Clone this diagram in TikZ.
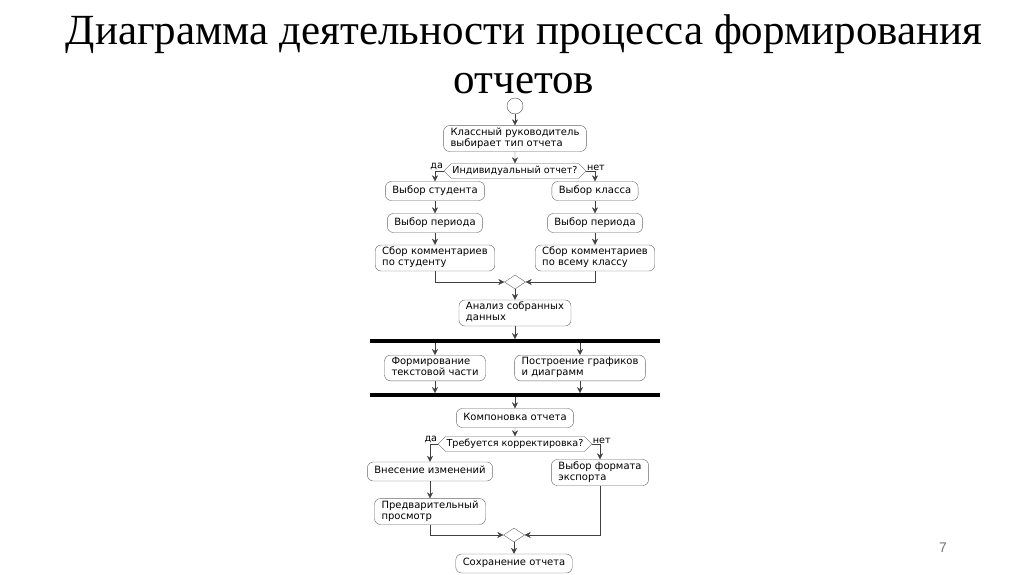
\documentclass[tikz,border=0pt]{standalone}
\usepackage{fontspec}
\setmainfont{Liberation Serif}
\newfontfamily\umlfont{DejaVu Sans}
\newfontfamily\pagefont{Liberation Sans}
\usetikzlibrary{arrows.meta,shapes.symbols,shapes.geometric}

\begin{document}
\begin{tikzpicture}[x=1pt,y=-1pt,
    act/.style={draw=black!60,rounded corners=6pt,fill=white,align=left,
      font=\umlfont\fontsize{10}{11}\selectfont,inner xsep=7pt,inner ysep=2pt,
      minimum height=19pt,execute at begin node=\strut,execute at end node=\strut},
    choice/.style={draw=black!60,signal,signal to=west and east,fill=white,
      font=\umlfont\fontsize{9.6}{11}\selectfont,inner xsep=1pt,inner ysep=1.5pt,
      minimum height=15pt},
    merge/.style={draw=black!60,diamond,fill=white,minimum width=21pt,
      minimum height=14pt,inner sep=0pt},
    bar/.style={fill=black,minimum width=290pt,minimum height=3.5pt,inner sep=0pt},
    lbl/.style={font=\umlfont\fontsize{9.6}{11}\selectfont,inner sep=0.5pt},
    flow/.style={draw=black!75,-{Stealth[length=6pt,width=6pt]}},
    heading/.style={font=\fontsize{43}{43}\selectfont,inner sep=0pt,anchor=base},
  ]
    \useasboundingbox (0,0) rectangle (1024,574);

    % title
    \node[heading] (title1) at (524,44) {Диаграмма деятельности процесса формирования};
    \node[heading] (title2) at (524,93) {отчетов};
    \node[font=\pagefont\fontsize{14}{14}\selectfont,text=black!55] (page) at (943,548) {7};

    % start and selection of report type
    \node[draw=black!70,circle,fill=white,minimum size=16pt,inner sep=0pt] (start) at (515,106) {};
    \node[act] (type) at (515,138.5) {Классный руководитель\\выбирает тип отчета};
    \node[choice] (indiv) at (515,171) {Индивидуальный отчет?};

    % left: one student
    \node[act] (stud) at (435,191) {Выбор студента};
    \node[act] (per1) at (435,223) {Выбор периода};
    \node[act] (com1) at (435,258) {Сбор комментариев\\по студенту};

    % right: whole class
    \node[act] (class) at (595,191) {Выбор класса};
    \node[act] (per2) at (595,223) {Выбор периода};
    \node[act] (com2) at (595,258) {Сбор комментариев\\по всему классу};

    \node[merge] (m1) at (515,282) {};
    \node[act] (anal) at (515,313) {Анализ собранных\\данных};

    % parallel part
    \node[bar] (fork) at (515,341) {};
    \node[act] (textp) at (435,368) {Формирование\\текстовой части};
    \node[act] (graph) at (580,368) {Построение графиков\\и диаграмм};
    \node[bar] (join) at (515,395) {};

    \node[act] (layout) at (515,418) {Компоновка отчета};
    \node[choice] (corr) at (515,444) {Требуется корректировка?};
    \node[act] (edit) at (430,471.5) {Внесение изменений};
    \node[act] (preview) at (430,511.5) {Предварительный\\просмотр};
    \node[act] (export) at (600,472.5) {Выбор формата\\экспорта};
    \node[merge] (m2) at (514,535) {};
    \node[act] (save) at (514,563.5) {Сохранение отчета};

    % connectors
    \draw[flow] (start) -- (type);
    \draw[flow] (type) -- (indiv);
    \draw[flow] (indiv.west) -| (stud.north);
    \draw[flow] (indiv.east) -| (class.north);
    \node[lbl,anchor=south east] (yes1) at (indiv.west) {да};
    \node[lbl,anchor=south west] (no1) at (indiv.east) {нет};
    \draw[flow] (stud) -- (per1);
    \draw[flow] (per1) -- (com1);
    \draw[flow] (class) -- (per2);
    \draw[flow] (per2) -- (com2);
    \draw[flow] (com1.south) |- (m1.west);
    \draw[flow] (com2.south) |- (m1.east);
    \draw[flow] (m1) -- (anal);
    \draw[flow] (anal) -- (fork);
    \draw[flow] (textp.north |- fork.south) -- (textp);
    \draw[flow] (graph.north |- fork.south) -- (graph);
    \draw[flow] (textp) -- (textp.south |- join.north);
    \draw[flow] (graph) -- (graph.south |- join.north);
    \draw[flow] (join) -- (layout);
    \draw[flow] (layout) -- (corr);
    \draw[flow] (corr.west) -| (edit.north);
    \draw[flow] (corr.east) -| (export.north);
    \node[lbl,anchor=south east] (yes2) at (corr.west) {да};
    \node[lbl,anchor=south west] (no2) at (corr.east) {нет};
    \draw[flow] (edit) -- (preview);
    \draw[flow] (preview.south) |- (m2.west);
    \draw[flow] (export.south) |- (m2.east);
    \draw[flow] (m2) -- (save);
\end{tikzpicture}
\end{document}
